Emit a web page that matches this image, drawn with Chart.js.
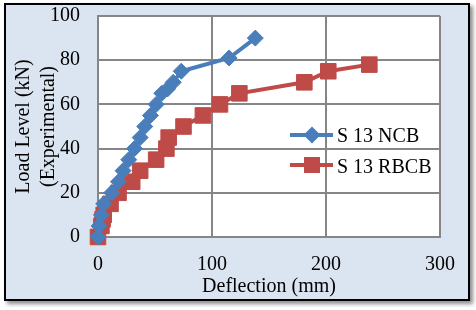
<!DOCTYPE html>
<html>
<head>
<meta charset="utf-8">
<script src="https://cdn.jsdelivr.net/npm/chart.js@4/dist/chart.umd.min.js"></script>
<style>
  body { margin: 0; background: #fff; }
  #frame {
    position: absolute; left: 4px; top: 3px; width: 466px; height: 298px;
    box-sizing: border-box; border: 2px solid #000; background: #dbe5f1;
    box-shadow: 3px 3px 4px rgba(0, 0, 0, 0.45);
  }
  #wrap { position: absolute; left: 0; top: 0; width: 476px; height: 310px; }
  .lg { position: absolute; font: 20px 'Liberation Serif', 'Times New Roman', serif; line-height: 20px; color: #000; white-space: nowrap; }
  .ln { position: absolute; height: 4px; }
  .mk { position: absolute; }
</style>
</head>
<body>
<div id="frame"></div>
<div id="wrap"><canvas id="loadChart" width="476" height="310"></canvas></div>

<!-- legend -->
<div class="ln" style="left:290px; top:133px; width:43px; background:#4a7ebb;"></div>
<div class="mk" style="left:306px; top:129px; width:12px; height:12px; background:#4a7ebb; transform:rotate(45deg);"></div>
<div class="lg" style="left:337px; top:125px;">S 13 NCB</div>
<div class="ln" style="left:290px; top:163px; width:43px; background:#be4b48;"></div>
<div class="mk" style="left:304px; top:157px; width:16px; height:16px; background:#be4b48;"></div>
<div class="lg" style="left:337px; top:156px;">S 13 RBCB</div>

<script>
// Load vs deflection readings
const ncbDeflection = [0, 1, 3, 5, 12, 18, 22, 27, 32, 37, 41, 46, 51, 56, 61, 66, 73, 115, 138];
const ncbLoad = [0, 5, 10, 15, 20, 25, 30, 35, 40, 45, 50, 55, 60, 65, 67, 70, 75, 81, 90];

const rbcbDeflection = [0, 3, 4, 5, 11, 18, 30, 37, 51, 60, 62, 75, 92, 107, 124, 181, 202, 238];
const rbcbLoad = [0, 5, 8, 10, 15, 20, 25, 30, 35, 40, 45, 50, 55, 60, 65, 70, 75, 78];

const xTicks = [0, 100, 200, 300];
const yTicks = [0, 20, 40, 60, 80, 100];

function toPoints(xs, ys) {
    return xs.map(function(x, i) { return { x: x, y: ys[i] }; });
}

// white plot area on the blue frame
const plotBackground = {
    id: 'plotBackground',
    beforeDraw(chart) {
        const a = chart.chartArea;
        chart.ctx.save();
        chart.ctx.fillStyle = '#ffffff';
        chart.ctx.fillRect(a.left, a.top, a.right - a.left, a.bottom - a.top);
        chart.ctx.restore();
    }
};

const serif = { family: "'Liberation Serif', 'Times New Roman', serif", size: 20 };
const gridColor = '#868686';

new Chart(document.getElementById('loadChart'), {
    type: 'scatter',
    data: {
        datasets: [
            {
                label: 'S 13 NCB',
                data: toPoints(ncbDeflection, ncbLoad),
                showLine: true,
                clip: false,
                borderColor: '#4a7ebb',
                backgroundColor: '#4a7ebb',
                borderWidth: 4,
                pointStyle: 'rectRot',
                pointRadius: 8,
                pointBorderWidth: 1,
                pointBorderColor: '#4a7ebb'
            },
            {
                label: 'S 13 RBCB',
                data: toPoints(rbcbDeflection, rbcbLoad),
                showLine: true,
                clip: false,
                borderColor: '#be4b48',
                backgroundColor: '#be4b48',
                borderWidth: 4,
                pointStyle: 'rect',
                pointRadius: 11,
                pointBorderWidth: 1,
                pointBorderColor: '#be4b48'
            }
        ]
    },
    options: {
        responsive: false,
        animation: false,
        layout: { padding: { left: 7, top: 16, right: 36, bottom: 10 } },
        plugins: {
            legend: { display: false },
            tooltip: { enabled: false }
        },
        scales: {
            x: {
                type: 'linear',
                min: 0,
                max: 300,
                afterBuildTicks: function(scale) {
                    scale.ticks = xTicks.map(function(v) { return { value: v }; });
                },
                afterFit: function(scale) {
                    scale.height = 63;
                    scale.paddingLeft = 0;
                    scale.paddingRight = 0;
                },
                ticks: { font: serif, color: '#000', padding: 16 },
                grid: { color: gridColor, lineWidth: 2, drawTicks: false },
                border: { color: gridColor, width: 2 },
                title: {
                    display: true,
                    text: 'Deflection (mm)',
                    font: serif,
                    color: '#000',
                    padding: { top: 0, bottom: 1 }
                }
            },
            y: {
                min: 0,
                max: 100,
                afterBuildTicks: function(scale) {
                    scale.ticks = yTicks.map(function(v) { return { value: v }; });
                },
                afterFit: function(scale) {
                    scale.width = 91;
                    scale.paddingTop = 0;
                    scale.paddingBottom = 0;
                },
                ticks: { font: serif, color: '#000', padding: 18 },
                grid: { color: gridColor, lineWidth: 2, drawTicks: false },
                border: { color: gridColor, width: 2 },
                title: {
                    display: true,
                    text: ['Load Level (kN)', '(Experimental)'],
                    font: { family: serif.family, size: 20, lineHeight: 1.25 },
                    color: '#000',
                    padding: { top: 4.5, bottom: 0 }
                }
            }
        }
    },
    plugins: [plotBackground]
});
</script>
</body>
</html>
